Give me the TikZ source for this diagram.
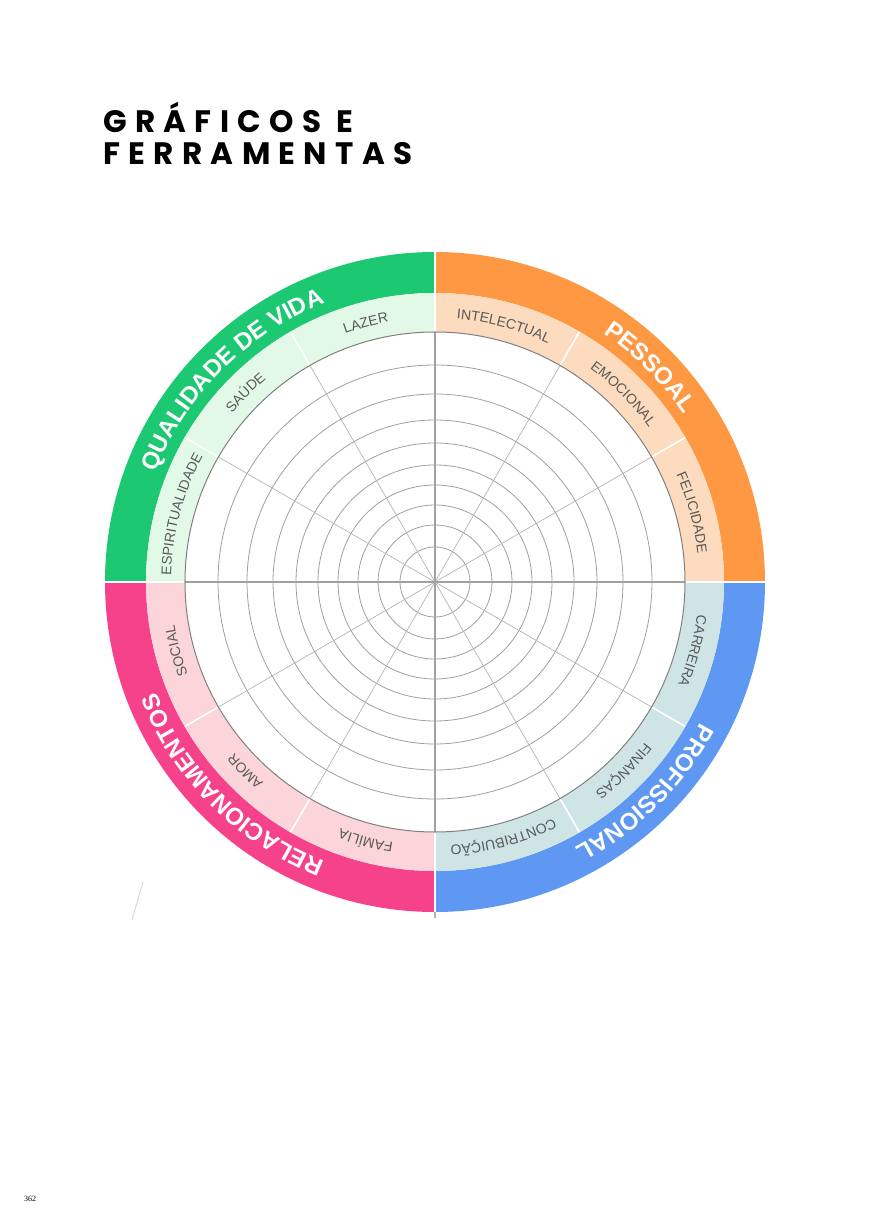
\documentclass[tikz,border=0pt]{standalone}
\usepackage{fontspec}
\setmainfont{Liberation Sans}
\newfontfamily\titlefont[LetterSpace=27]{Poppins}
\newfontfamily\pagefont{Liberation Serif}
\usetikzlibrary{decorations.text}

\definecolor{pessoal}{HTML}{FF9843}
\definecolor{pessoallt}{HTML}{FDDBBE}
\definecolor{qualidade}{HTML}{1DC873}
\definecolor{qualidadelt}{HTML}{E2F9E7}
\definecolor{relac}{HTML}{F6418B}
\definecolor{relaclt}{HTML}{FBD5D9}
\definecolor{profis}{HTML}{5E98F2}
\definecolor{profislt}{HTML}{CFE5E5}
\definecolor{gridgray}{HTML}{A0A0A0}
\definecolor{spokegray}{HTML}{B4B4B4}
\definecolor{labelgray}{HTML}{585858}

\newcommand\catfont{\bfseries\fontsize{24}{24}\selectfont}
\newcommand\itemfont{\fontsize{14}{14}\selectfont}
% text on a clockwise arc, centred on an angle
\newcommand\ringtext[4]{%
  \path[#1={#4}] ({#2+45}:#3) arc[start angle={#2+45}, end angle={#2-45}, radius=#3];}

\begin{document}
\begin{tikzpicture}[
  x=1pt, y=1pt,
  gridcircle/.style={draw=gridgray, line width=0.8pt},
  rimline/.style={draw=gray, line width=1pt},
  spoke/.style={draw=spokegray, line width=0.7pt},
  axisline/.style={draw=gridgray, line width=1.2pt},
  divider/.style={draw=white, line width=1.6pt},
  gap/.style={draw=white, line width=2.6pt},
  catlabel/.style={decorate, decoration={text along path, text align=center,
                   text color=white, text={|\catfont|#1}}},
  itemlabel/.style={decorate, decoration={text along path, text align=center,
                   text color=labelgray, text={|\itemfont|#1}}},
  titletext/.style={anchor=base west, inner sep=0pt,
                    font=\titlefont\bfseries\fontsize{31}{31}\selectfont}
]
  \useasboundingbox (-435,-646) rectangle (434,582);

  % title
  \node[titletext] (title1) at (-332,449) {GRÁFICOS E};
  \node[titletext] (title2) at (-332,417) {FERRAMENTAS};

  % quadrant bands
  \foreach \a/\dark/\light in {0/pessoal/pessoallt, 90/qualidade/qualidadelt,
                               180/relac/relaclt, 270/profis/profislt}{
    \fill[\dark] (\a:330) arc[start angle=\a, end angle={\a+90}, radius=330]
      -- ({\a+90}:289) arc[start angle={\a+90}, end angle=\a, radius=289] -- cycle;
    \fill[\light] (\a:289) arc[start angle=\a, end angle={\a+90}, radius=289]
      -- ({\a+90}:250) arc[start angle={\a+90}, end angle=\a, radius=250] -- cycle;
  }
  \fill[white] (0,0) circle (250);

  % grid
  \foreach \r in {35,57,77,97,117,139,162,188,217}
    \draw[gridcircle] (0,0) circle (\r);
  \foreach \a in {30,60,120,150,210,240,300,330}{
    \draw[spoke] (0,0) -- (\a:250);
    \draw[divider] (\a:251) -- (\a:289);
  }
  \draw[axisline] (-250,0) -- (250,0);
  \draw[axisline] (0,-250) -- (0,250);
  \draw[rimline] (0,0) circle (250);
  \foreach \a in {0,90,180,270}
    \draw[gap] (\a:250.5) -- (\a:331);

  % category names
  \ringtext{catlabel}{45}{300}{PESSOAL}
  \ringtext{catlabel}{135}{300}{QUALIDADE DE VIDA}
  \ringtext{catlabel}{225}{300}{RELACIONAMENTOS}
  \ringtext{catlabel}{315}{300}{PROFISSIONAL}

  % item names
  \ringtext{itemlabel}{75}{264}{INTELECTUAL}
  \ringtext{itemlabel}{45}{264}{EMOCIONAL}
  \ringtext{itemlabel}{15}{264}{FELICIDADE}
  \ringtext{itemlabel}{105}{264}{LAZER}
  \ringtext{itemlabel}{135}{264}{SAÚDE}
  \ringtext{itemlabel}{165}{264}{ESPIRITUALIDADE}
  \ringtext{itemlabel}{195}{264}{SOCIAL}
  \ringtext{itemlabel}{225}{264}{AMOR}
  \ringtext{itemlabel}{255}{264}{FAMÍLIA}
  \ringtext{itemlabel}{285}{264}{CONTRIBUIÇÃO}
  \ringtext{itemlabel}{315}{264}{FINANÇAS}
  \ringtext{itemlabel}{345}{264}{CARREIRA}

  % stray marks
  \draw[gray!30, line width=1pt] (-292,-300) -- (-303,-338);
  \draw[gray!60, line width=2pt] (0,-330) -- (0,-336);

  % page number
  \node[anchor=base west, inner sep=0pt, font=\pagefont\fontsize{8}{8}\selectfont]
    (pagenum) at (-411,-619) {362};
\end{tikzpicture}
\end{document}
